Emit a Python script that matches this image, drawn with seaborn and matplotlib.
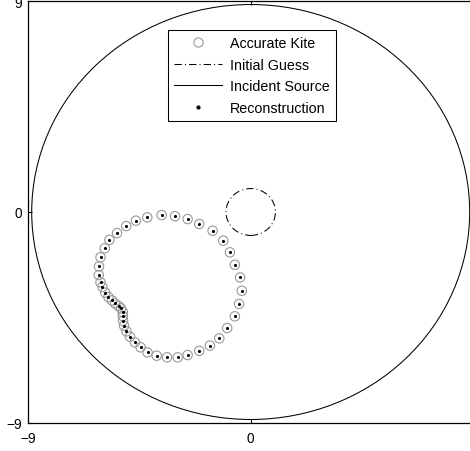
import matplotlib
matplotlib.use("Agg")
import matplotlib.pyplot as plt
from matplotlib.patches import Circle
from matplotlib.lines import Line2D
import seaborn as sns
import pandas as pd

# ---- data ----
kite_x = [-3.60, -3.06, -2.55, -2.08, -1.54, -1.11, -0.84, -0.64, -0.43, -0.36,
          -0.47, -0.64, -0.95, -1.27, -1.65, -2.08, -2.55, -2.95, -3.38, -3.80,
          -4.17, -4.45, -4.68, -4.88, -5.02, -5.12, -5.16, -5.17, -5.17, -5.24,
          -5.34, -5.48, -5.61, -5.75, -5.88, -5.99, -6.07, -6.14, -6.13, -6.07,
          -5.90, -5.71, -5.40, -5.03, -4.64, -4.18]
kite_y = [-0.13, -0.18, -0.30, -0.51, -0.80, -1.22, -1.72, -2.25, -2.79, -3.36,
          -3.92, -4.45, -4.95, -5.39, -5.70, -5.92, -6.10, -6.20, -6.20, -6.13,
          -5.99, -5.77, -5.56, -5.32, -5.09, -4.85, -4.64, -4.44, -4.27, -4.11,
          -4.01, -3.90, -3.77, -3.63, -3.44, -3.20, -3.00, -2.69, -2.32, -1.93,
          -1.55, -1.19, -0.90, -0.60, -0.37, -0.23]
recon_x = list(kite_x)
recon_y = list(kite_y)

guess_center = (0.0, 0.0)
guess_radius = 1.0
source_center = (0.0, 0.0)
source_radius = 8.85

tick_vals = [-9, 0, 9]
tick_labels = ["\u22129", "0", "9"]
legend_labels = ["Accurate Kite", "Initial Guess", "Incident Source", "Reconstruction"]

# ---- style ----
plt.rcParams["font.family"] = ["Liberation Sans", "DejaVu Sans"]
plt.rcParams["font.size"] = 9.8

fig = plt.figure(figsize=(4.7, 4.52), dpi=100)
ax = fig.add_axes([28 / 470, 28 / 452, 445.4 / 470, 422 / 452])

kite_df = pd.DataFrame({"x": kite_x, "y": kite_y})
recon_df = pd.DataFrame({"x": recon_x, "y": recon_y})

sns.scatterplot(data=kite_df, x="x", y="y", ax=ax, marker="o", s=46,
                facecolor="none", edgecolor="#999999", linewidth=0.8, zorder=3)
sns.scatterplot(data=recon_df, x="x", y="y", ax=ax, marker="o", s=5,
                color="black", edgecolor="black", linewidth=0, zorder=4)

ax.add_patch(Circle(guess_center, guess_radius, fill=False, edgecolor="black",
                    linewidth=0.75, linestyle=(0, (7, 3, 1, 3))))
ax.add_patch(Circle(source_center, source_radius, fill=False, edgecolor="black",
                    linewidth=0.75))

ax.set_xlim(-9, 9)
ax.set_ylim(-9, 9)
ax.set_xticks(tick_vals)
ax.set_xticklabels(tick_labels)
ax.set_yticks(tick_vals)
ax.set_yticklabels(tick_labels)
ax.set_xlabel("")
ax.set_ylabel("")
ax.tick_params(direction="in", length=3, width=0.75, top=True, right=True,
               labelsize=9.8)
ax.tick_params(axis="x", pad=6)
ax.tick_params(axis="y", pad=4)
for sp in ax.spines.values():
    sp.set_linewidth(0.9)

handles = [
    Line2D([], [], linestyle="none", marker="o", markersize=6.6,
           markerfacecolor="none", markeredgecolor="#999999", markeredgewidth=0.8),
    Line2D([], [], color="black", linewidth=0.75, linestyle=(0, (7, 3, 1, 3))),
    Line2D([], [], color="black", linewidth=0.75),
    Line2D([], [], linestyle="none", marker="o", markersize=2,
           markerfacecolor="black", markeredgecolor="black"),
]
leg = ax.legend(handles, legend_labels, loc="upper left",
                bbox_to_anchor=(168 / 470, 1 - 31 / 452),
                bbox_transform=fig.transFigure, borderaxespad=0,
                fancybox=False, framealpha=1, edgecolor="black",
                handlelength=3.3, handletextpad=0.55, labelspacing=0.52,
                borderpad=0.45, fontsize=10.3)
leg.get_frame().set_linewidth(0.75)

fig.savefig("out.png", dpi=100)
